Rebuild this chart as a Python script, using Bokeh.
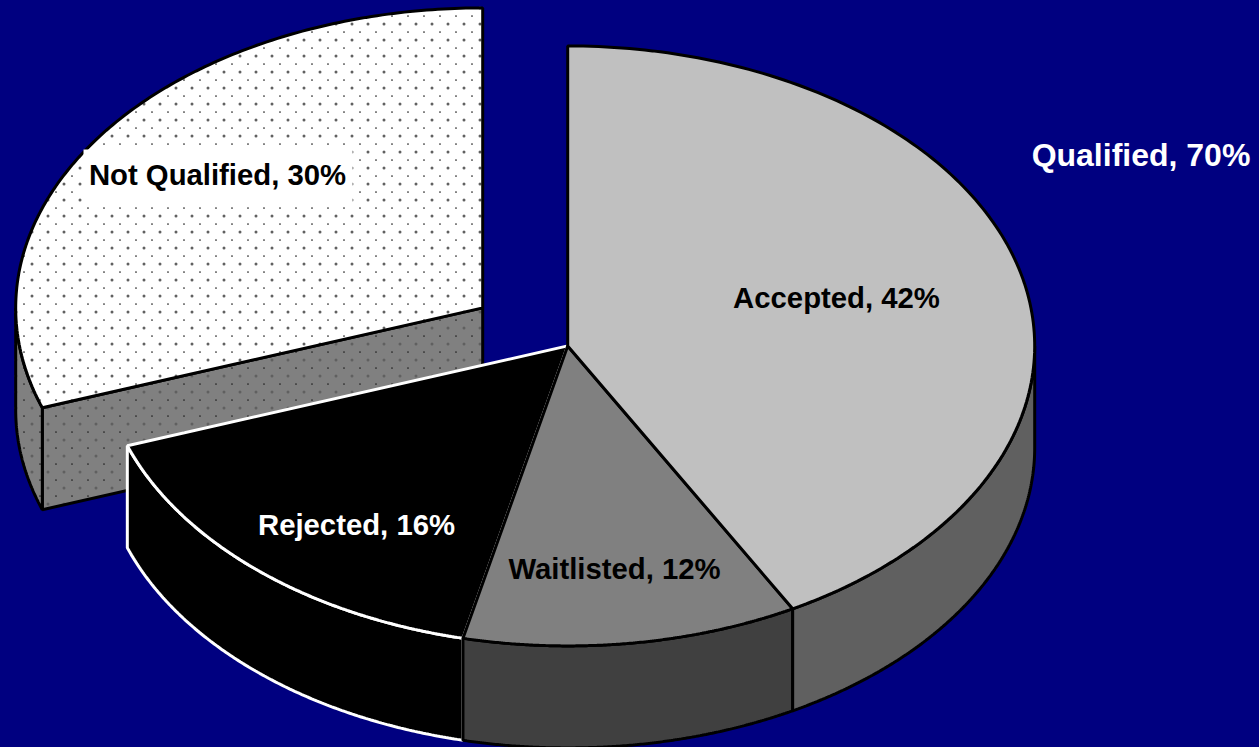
import numpy as np
from bokeh.plotting import figure
from bokeh.core.properties import value
from bokeh.embed import file_html
from bokeh.resources import INLINE

# Data
categories = ["Accepted", "Waitlisted", "Rejected", "Not Qualified"]
shares = [42.0, 11.6, 16.0, 30.4]
labels = ["Accepted, 42%", "Waitlisted, 12%", "Rejected, 16%", "Not Qualified, 30%"]
group_label = "Qualified, 70%"

# Style
NAVY = "#000080"
top_colors = ["#C0C0C0", "#808080", "#000000", "#FFFFFF"]
rim_colors = ["#606060", "#404040", "#000000", "#808080"]
edge_colors = ["#000000", "#000000", "#FFFFFF", "#000000"]
label_colors = ["#000000", "#000000", "#FFFFFF", "#000000"]

W, H = 1259, 747
CX, CY, RX, RY, DEPTH = 567.2, 345.4, 467.0, 300.0, 102.0
EXPLODE = (-85.0, -38.0)
LW = 3

p = figure(width=W, height=H, x_range=(0, W), y_range=(H, 0),
           output_backend="svg", toolbar_location=None, min_border=0,
           background_fill_color=NAVY, border_fill_color=NAVY, outline_line_color=None)
p.xaxis.visible = False
p.yaxis.visible = False
p.xgrid.visible = False
p.ygrid.visible = False

cum = np.cumsum([0.0] + shares) / 100.0 * 2 * np.pi


def arc(a0, a1, cx, cy, dz=0.0, n=160):
    t = np.linspace(a0, a1, n)
    return cx + RX * np.sin(t), cy + dz - RY * np.cos(t)


def inside(px, py, vx, vy):
    res = np.zeros(px.shape, dtype=bool)
    j = len(vx) - 1
    for i in range(len(vx)):
        cond = (vy[i] > py) != (vy[j] > py)
        with np.errstate(divide="ignore", invalid="ignore"):
            xint = (vx[j] - vx[i]) * (py - vy[i]) / (vy[j] - vy[i]) + vx[i]
        res ^= cond & (px < xint)
        j = i
    return res


def draw_dots(vx, vy):
    vx, vy = np.asarray(vx), np.asarray(vy)
    big_x, big_y = np.meshgrid(np.arange(0, 600, 16), np.arange(8, 600, 16))
    small_x, small_y = np.meshgrid(np.arange(8, 600, 16), np.arange(0, 600, 16))
    for gx, gy, size, col in ((big_x, big_y, 3.0, "#606060"), (small_x, small_y, 1.7, "#222222")):
        gx, gy = gx.ravel() - 0.5, gy.ravel() - 0.5
        m = inside(gx, gy, vx, vy)
        p.scatter(gx[m], gy[m], size=size, marker="circle", fill_color=col, line_color=None)


def rim_poly(a0, a1, cx, cy):
    x0, y0 = arc(a0, a1, cx, cy)
    x1, y1 = arc(a1, a0, cx, cy, DEPTH)
    return np.r_[x0, x1], np.r_[y0, y1]


def draw_slice(i, rim_a0, rim_a1):
    rx_, ry_ = rim_poly(rim_a0, rim_a1, CX, CY)
    p.patch(rx_, ry_, fill_color=rim_colors[i], line_color=edge_colors[i], line_width=LW)
    ax, ay = arc(cum[i], cum[i + 1], CX, CY)
    p.patch(np.r_[CX, ax], np.r_[CY, ay], fill_color=top_colors[i],
            line_color=edge_colors[i], line_width=LW)


# Exploded slice: drawn first, it sits behind the others
cx3, cy3 = CX + EXPLODE[0], CY + EXPLODE[1]
a0, a1 = cum[3], cum[4]
ex, ey = arc(a0, a0, cx3, cy3, n=1)
fx = np.r_[cx3, ex[0], ex[0], cx3]
fy = np.r_[cy3, ey[0], ey[0] + DEPTH, cy3 + DEPTH]
p.patch(fx, fy, fill_color=rim_colors[3], line_color=None)
draw_dots(fx, fy)
p.patch(fx, fy, fill_color=None, line_color="#000000", line_width=LW)
rim_x, rim_y = rim_poly(a0, 1.5 * np.pi, cx3, cy3)
p.patch(rim_x, rim_y, fill_color=rim_colors[3], line_color=None)
draw_dots(rim_x, rim_y)
p.patch(rim_x, rim_y, fill_color=None, line_color="#000000", line_width=LW)
ax, ay = arc(a0, a1, cx3, cy3)
tx, ty = np.r_[cx3, ax], np.r_[cy3, ay]
p.patch(tx, ty, fill_color=top_colors[3], line_color=None)
draw_dots(tx, ty)
p.patch(tx, ty, fill_color=None, line_color="#000000", line_width=LW)

# Rejected, then Waitlisted, then Accepted (the rims visible at the front only)
draw_slice(2, cum[2], cum[3])
draw_slice(1, cum[1], cum[2])
draw_slice(0, 0.5 * np.pi, cum[1])

# White plate behind the label of the exploded slice
p.quad(left=[83], right=[352], top=[149], bottom=[204], fill_color="#FFFFFF", line_color=None)

# Labels
label_x = [836, 614, 356, 217]
label_y = [297, 568, 524, 174]
for lx, ly, txt, col in zip(label_x, label_y, labels, label_colors):
    p.text([lx], [ly], text=[txt], text_color=col, text_align="center", text_baseline="middle",
           text_font=value("Liberation Sans"), text_font_style="bold", text_font_size="29.3px")
p.text([1140.5], [154], text=[group_label], text_color="#FFFFFF", text_align="center", text_baseline="middle",
       text_font=value("Liberation Sans"), text_font_style="bold", text_font_size="32px")

html = file_html(p, INLINE)
html = html.replace("<head>", "<head><style>html,body{margin:0;padding:0;background:#000080;overflow:hidden}</style>", 1)
open("out.html", "w").write(html)
